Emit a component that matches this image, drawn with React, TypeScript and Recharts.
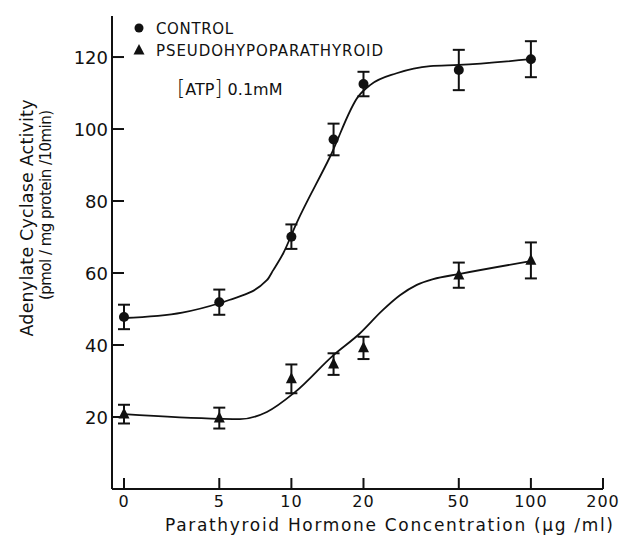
import React from "react";
import { ComposedChart, XAxis, YAxis, Line, Scatter, ErrorBar } from "recharts";

// ---- data ----
const concentrations = [0, 5, 10, 15, 20, 50, 100];
const controlMean = [47.8, 51.9, 70.1, 97.1, 112.5, 116.4, 119.4];
const controlErr = [3.4, 3.5, 3.4, 4.4, 3.4, 5.6, 5.0];
const pseudoMean = [20.8, 19.7, 30.6, 34.7, 39.2, 59.4, 63.5];
const pseudoErr = [2.6, 2.9, 4.0, 3.0, 3.1, 3.5, 5.0];

// hand-drawn fitted curves
const controlCurveX = [0, 3.5, 5, 5.5, 7.9, 8.4, 9.25, 10.5, 14.5, 19, 21.3, 27.5, 38, 50, 100];
const controlCurveY = [47.5, 49, 51.6, 52.5, 58, 60.8, 65.5, 73.8, 92.3, 109, 112.2, 115.5, 117.5, 117.8, 119.4];
const pseudoCurveX = [0, 5, 6.1, 7.9, 10.35, 15, 19.3, 24, 28.4, 33.4, 39.1, 50, 100];
const pseudoCurveY = [20.8, 19.5, 19.4, 21.4, 26.9, 37.2, 43.2, 49.6, 53.8, 56.7, 58.3, 59.7, 63.3];

const xTickLabels = [0, 5, 10, 20, 50, 100, 200];
const yTicks = [20, 40, 60, 80, 100, 120];

// axis transform: log scale with "0" placed at the position of 2 µg/ml
const ZERO_AT = 2;
const toPos = (c: number) => Math.log10(c === 0 ? ZERO_AT : c);
const xDomain: [number, number] = [toPos(0) - 0.05, toPos(200)];
const yDomain: [number, number] = [0, 131.4];

const tickPos = xTickLabels.map(toPos);
const labelForPos = (p: number) => {
  const i = tickPos.findIndex((t) => Math.abs(t - p) < 1e-6);
  return i >= 0 ? String(xTickLabels[i]) : "";
};

const controlPoints = concentrations.map((c, i) => ({ pos: toPos(c), v: controlMean[i], err: controlErr[i] }));
const pseudoPoints = concentrations.map((c, i) => ({ pos: toPos(c), v: pseudoMean[i], err: pseudoErr[i] }));
const controlCurve = controlCurveX.map((c, i) => ({ pos: toPos(c), v: controlCurveY[i] }));
const pseudoCurve = pseudoCurveX.map((c, i) => ({ pos: toPos(c), v: pseudoCurveY[i] }));

const FONT = "DejaVu Sans";
const INK = "#111";

// layout
const W = 624;
const H = 537;
const PLOT_LEFT = 112;
const PLOT_RIGHT = 603;
const PLOT_TOP = 16;
const PLOT_BOTTOM = 489;

const XTick = (props: any) => {
  const { x, payload } = props;
  return (
    <g>
      <line x1={x} x2={x} y1={PLOT_BOTTOM} y2={PLOT_BOTTOM - 11} stroke={INK} strokeWidth={2} />
      <text x={x} y={PLOT_BOTTOM + 18} textAnchor="middle" fontFamily={FONT} fontSize={16} letterSpacing={1} fill={INK}>
        {labelForPos(payload.value)}
      </text>
    </g>
  );
};

const YTick = (props: any) => {
  const { y, payload } = props;
  return (
    <g>
      <line x1={PLOT_LEFT} x2={PLOT_LEFT + 12} y1={y} y2={y} stroke={INK} strokeWidth={2} />
      <text x={PLOT_LEFT - 4} y={y + 6.5} textAnchor="end" fontFamily={FONT} fontSize={18} fill={INK}>
        {payload.value}
      </text>
    </g>
  );
};

const Dot = (props: any) => {
  const { cx, cy } = props;
  return <circle cx={cx} cy={cy} r={5} fill={INK} />;
};

const Tri = (props: any) => {
  const { cx, cy } = props;
  const h = 11;
  const w = 11;
  return (
    <polygon
      points={`${cx},${cy - h * 0.6} ${cx - w / 2},${cy + h * 0.4} ${cx + w / 2},${cy + h * 0.4}`}
      fill={INK}
    />
  );
};

export default function App() {
  return (
    <div style={{ position: "absolute", left: 0, top: 0, width: W, height: H, background: "#fff" }}>
      <ComposedChart
        width={W}
        height={H}
        margin={{ top: PLOT_TOP, right: W - PLOT_RIGHT, bottom: 0, left: 0 }}
      >
        <XAxis
          xAxisId="b"
          type="number"
          dataKey="pos"
          domain={xDomain}
          ticks={tickPos}
          tick={XTick}
          tickLine={false}
          interval={0}
          height={H - PLOT_BOTTOM}
          axisLine={{ stroke: INK, strokeWidth: 2 }}
          allowDataOverflow
        />
        <XAxis
          xAxisId="t"
          orientation="top"
          type="number"
          dataKey="pos"
          domain={xDomain}
          tick={false}
          tickLine={false}
          height={0}
          axisLine={{ stroke: INK, strokeWidth: 2 }}
          allowDataOverflow
        />
        <YAxis
          yAxisId="l"
          type="number"
          dataKey="v"
          domain={yDomain}
          ticks={yTicks}
          tick={YTick}
          tickLine={false}
          interval={0}
          width={PLOT_LEFT}
          axisLine={{ stroke: INK, strokeWidth: 2 }}
          allowDataOverflow
        />
        <YAxis
          yAxisId="r"
          orientation="right"
          type="number"
          dataKey="v"
          domain={yDomain}
          tick={false}
          tickLine={false}
          width={0}
          axisLine={{ stroke: INK, strokeWidth: 2 }}
          allowDataOverflow
        />
        <Line
          xAxisId="b"
          yAxisId="l"
          data={controlCurve}
          dataKey="v"
          type="monotone"
          stroke={INK}
          strokeWidth={1.8}
          dot={false}
          activeDot={false}
          isAnimationActive={false}
        />
        <Line
          xAxisId="b"
          yAxisId="l"
          data={pseudoCurve}
          dataKey="v"
          type="monotone"
          stroke={INK}
          strokeWidth={1.8}
          dot={false}
          activeDot={false}
          isAnimationActive={false}
        />
        <Scatter xAxisId="b" yAxisId="l" data={controlPoints} dataKey="v" shape={Dot} isAnimationActive={false}>
          <ErrorBar dataKey="err" direction="y" width={6} stroke={INK} strokeWidth={2} isAnimationActive={false} />
        </Scatter>
        <Scatter xAxisId="b" yAxisId="l" data={pseudoPoints} dataKey="v" shape={Tri} isAnimationActive={false}>
          <ErrorBar dataKey="err" direction="y" width={6} stroke={INK} strokeWidth={2} isAnimationActive={false} />
        </Scatter>
      </ComposedChart>
      <svg width={W} height={H} style={{ position: "absolute", left: 0, top: 0, pointerEvents: "none" }}>
        <g fontFamily={FONT} fill={INK}>
          <circle cx={139} cy={28} r={4.5} />
          <text x={156} y={33.5} fontSize={15} textLength={77} lengthAdjust="spacing">CONTROL</text>
          <polygon points="139,44 133.5,54.5 144.5,54.5" />
          <text x={156} y={55.5} fontSize={15} textLength={227} lengthAdjust="spacing">PSEUDOHYPOPARATHYROID</text>
          <text x={177} y={95} fontSize={16}>
            <tspan fontSize={21} fontWeight={300}>[</tspan>
            <tspan>ATP</tspan>
            <tspan fontSize={21} fontWeight={300}>]</tspan>
            <tspan> 0.1mM</tspan>
          </text>
          <text
            transform="translate(33,218) rotate(-90)"
            textAnchor="middle"
            fontSize={17.5}
            textLength={237}
            lengthAdjust="spacing"
          >
            Adenylate Cyclase Activity
          </text>
          <text
            transform="translate(51,205) rotate(-90)"
            textAnchor="middle"
            fontSize={15}
            textLength={190}
            lengthAdjust="spacing"
          >
            (pmol / mg protein /10min)
          </text>
          <text x={389} y={531} textAnchor="middle" fontSize={17} textLength={448} lengthAdjust="spacing">
            Parathyroid Hormone Concentration (µg /ml)
          </text>
        </g>
      </svg>
    </div>
  );
}
